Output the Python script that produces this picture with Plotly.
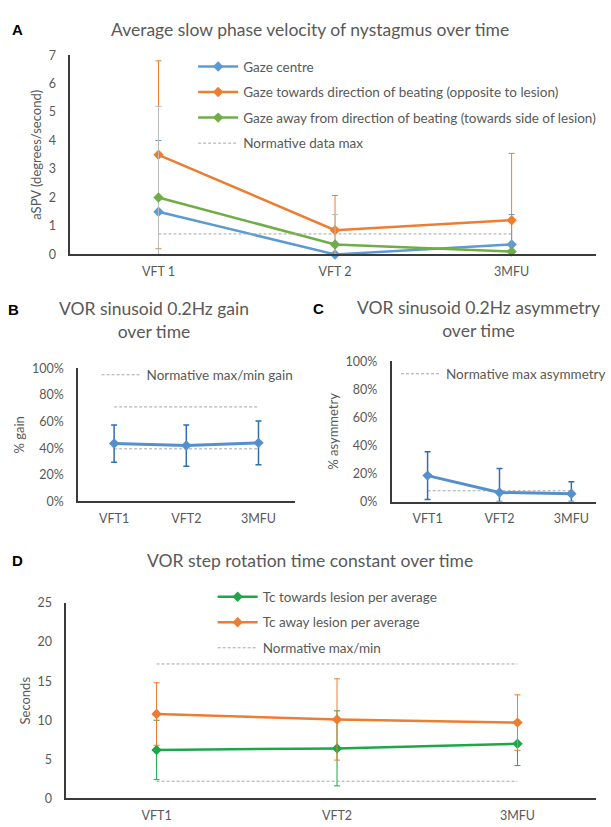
import plotly.graph_objects as go

W, H = 611, 827
FONT = "Lato"
GREY = "#595959"
AXIS = "#3a3a3a"
NORM = "#a6a6a6"

# ---------------- Data ----------------
# Panel A
cats_a = ["VFT 1", "VFT 2", "3MFU"]
gaze_centre = [1.5, 0.0, 0.35]
gaze_centre_err = [2.5, 0.0, 1.05]
gaze_towards = [3.5, 0.85, 1.2]
gaze_towards_err = [3.3, 1.22, 2.35]
gaze_away = [2.0, 0.35, 0.1]
gaze_away_err = [3.2, 1.05, 0.0]
norm_a = [0.72, 0.72]

# Panel B
cats_bc = ["VFT1", "VFT2", "3MFU"]
gain = [43.5, 42.0, 44.0]
gain_err = [14.0, 15.5, 16.5]
norm_gain_max = [71.0, 71.0]
norm_gain_min = [39.5, 39.5]

# Panel C
asym = [18.5, 6.5, 5.6]
asym_err = [17.0, 17.0, 8.5]
norm_asym = [7.7, 7.7]

# Panel D
cats_d = ["VFT1", "VFT2", "3MFU"]
tc_towards = [6.2, 6.4, 7.0]
tc_towards_err = [3.8, 4.8, 2.8]
tc_away = [10.8, 10.1, 9.7]
tc_away_err = [4.0, 5.2, 3.55]
norm_tc_max = [17.2, 17.2]
norm_tc_min = [2.2, 2.2]

pos = [0, 1, 2]
norm_pos = [0, 2]


def px(x):
    return x / W


def py(y):
    return 1 - y / H


def minus(vals, errs):
    return [min(e, v) for v, e in zip(vals, errs)]


fig = go.Figure()


def series(x, y, err, color, name, xa, ya, legend, errcolor=None, width=2.5, show=True,
           errthick=1):
    fig.add_trace(go.Scatter(
        x=x, y=y, name=name, mode="lines+markers",
        line=dict(color=color, width=width),
        marker=dict(symbol="diamond", size=8, color=color),
        error_y=dict(type="data", symmetric=False, array=err,
                     arrayminus=minus(y, err), color=errcolor or color,
                     thickness=errthick, width=3),
        xaxis=xa, yaxis=ya, legend=legend, legendgroup=legend + name,
        cliponaxis=False, showlegend=show))


def normline(x, y, name, xa, ya, legend, show=True):
    fig.add_trace(go.Scatter(
        x=x, y=y, name=name, mode="lines",
        line=dict(color=NORM, width=1, dash="3px,2px"),
        xaxis=xa, yaxis=ya, legend=legend, legendgroup=legend + "norm",
        showlegend=show, hoverinfo="skip"))


# Panel A
series(pos, gaze_centre, gaze_centre_err, "#5B9BD5", "Gaze centre", "x", "y", "legend")
series(pos, gaze_towards, gaze_towards_err, "#ED7D31",
       "Gaze towards direction of beating (opposite to lesion)", "x", "y", "legend")
series(pos, gaze_away, gaze_away_err, "#70AD47",
       "Gaze away from direction of beating (towards side of lesion)", "x", "y", "legend",
       errcolor="#b9bdb9")
normline(norm_pos, norm_a, "Normative data max", "x", "y", "legend")

# Panel B
normline(norm_pos, norm_gain_max, "Normative max/min gain", "x2", "y2", "legend2")
normline(norm_pos, norm_gain_min, "Normative max/min gain", "x2", "y2", "legend2", show=False)
series(pos, gain, gain_err, "#5590cc", "gain", "x2", "y2", "legend2",
       errcolor="#2e6fae", width=3, show=False, errthick=1.5)

# Panel C
normline(norm_pos, norm_asym, "Normative max asymmetry", "x3", "y3", "legend3")
series(pos, asym, asym_err, "#5590cc", "asym", "x3", "y3", "legend3",
       errcolor="#2e6fae", width=3, show=False, errthick=1.5)

# Panel D
series(pos, tc_towards, tc_towards_err, "#1EA64B", "Tc towards lesion per average", "x4", "y4", "legend4")
series(pos, tc_away, tc_away_err, "#ED7D31", "Tc away lesion per average", "x4", "y4", "legend4")
normline(norm_pos, norm_tc_max, "Normative max/min", "x4", "y4", "legend4")
normline(norm_pos, norm_tc_min, "Normative max/min", "x4", "y4", "legend4", show=False)

tickfont = dict(family=FONT, size=12.5, color=GREY)


def xaxis(dom, rng, labels):
    return dict(domain=dom, range=rng, tickvals=pos, ticktext=labels,
                showline=True, linecolor=AXIS, linewidth=1.5, showgrid=False,
                zeroline=False, ticks="", tickfont=tickfont, fixedrange=True,
                ticklabelstandoff=5)


def yaxis(dom, rng, dtick, title, suffix="", anchor="x"):
    return dict(domain=dom, range=rng, dtick=dtick, ticksuffix=suffix,
                showline=True, linecolor=AXIS, linewidth=1.5, showgrid=False,
                zeroline=False, ticks="", tickfont=tickfont, anchor=anchor,
                title=dict(text=title, font=dict(family=FONT, size=13, color=GREY), standoff=4),
                ticklabelstandoff=10)


fig.update_layout(
    width=W, height=H, margin=dict(l=0, r=0, t=0, b=0),
    paper_bgcolor="white", plot_bgcolor="rgba(0,0,0,0)",
    font=dict(family=FONT, color=GREY),
    xaxis=dict(xaxis([px(72), 1.0], [-0.5, -0.5 + (W - 72) / 181], cats_a), anchor="y"),
    yaxis=yaxis([py(251), py(48)], [0, 7], 1, "aSPV (degrees/second)", anchor="x"),
    xaxis2=dict(xaxis([px(80), px(302)], [-0.5, 2.5], cats_bc), anchor="y2"),
    yaxis2=yaxis([py(502.5), py(367)], [0, 100], 20, "% gain", "%", anchor="x2"),
    xaxis3=dict(xaxis([px(401.5), 1.0], [-0.5, -0.5 + (W - 401.5) / 73.7], cats_bc), anchor="y3"),
    yaxis3=yaxis([py(502.7), py(359.7)], [0, 100], 20, "% asymmetry", "%", anchor="x3"),
    xaxis4=dict(xaxis([px(68), 1.0], [-0.5, -0.5 + (W - 68) / 185], cats_d), anchor="y4"),
    yaxis4=yaxis([py(805), py(606)], [0, 25], 5, "Seconds", anchor="x4"),
    showlegend=True,
)

legfont = dict(family=FONT, size=13.5, color=GREY)
common = dict(xanchor="left", yanchor="top", bgcolor="rgba(0,0,0,0)", font=legfont,
              tracegroupgap=5, itemclick=False, itemdoubleclick=False, traceorder="grouped",
              itemwidth=40)
fig.update_layout(
    legend=dict(common, x=px(198), y=py(44)),
    legend2=dict(common, x=px(99), y=py(358)),
    legend3=dict(common, x=px(406), y=py(357)),
    legend4=dict(common, x=px(218), y=py(584)),
)

title_font = dict(family=FONT, size=17.5, color=GREY)
label_font = dict(family="Liberation Sans", size=15, color="black")
ann = [
    dict(text="Average slow phase velocity of nystagmus over time", x=px(318), y=py(22), font=title_font),
    dict(text="VOR sinusoid 0.2Hz gain<br>over time", x=px(158), y=py(318), font=title_font),
    dict(text="VOR sinusoid 0.2Hz asymmetry<br>over time", x=px(491), y=py(317), font=title_font),
    dict(text="VOR step rotation time constant over time", x=px(318), y=py(563), font=title_font),
    dict(text="<b>A</b>", x=px(18), y=py(22), font=label_font),
    dict(text="<b>B</b>", x=px(14), y=py(307), font=label_font),
    dict(text="<b>C</b>", x=px(327), y=py(306), font=label_font),
    dict(text="<b>D</b>", x=px(18), y=py(563), font=label_font),
]
for a in ann:
    fig.add_annotation(xref="paper", yref="paper", showarrow=False,
                       xanchor="center", yanchor="middle", **a)

fig.write_html("out.html", config={"displayModeBar": False},
               post_script="document.body.style.margin='0';document.body.style.overflow='hidden';")
